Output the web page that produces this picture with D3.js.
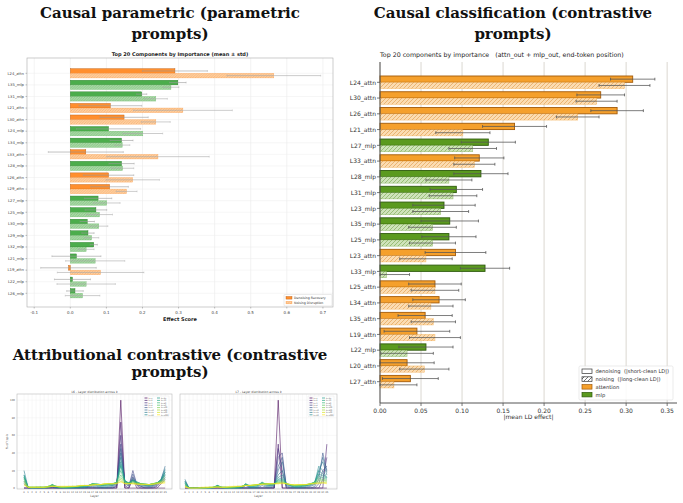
<!DOCTYPE html>
<html>
<head>
<meta charset="utf-8">
<script src="https://cdn.jsdelivr.net/npm/d3@7"></script>
<style>
  body { margin: 0; background: #fff; }
  svg { display: block; }
  text { font-family: "DejaVu Sans", sans-serif; }
  .ptitle { font-family: "DejaVu Serif", serif; font-weight: bold; font-size: 15px; fill: #111; }
</style>
</head>
<body>
<svg id="fig" width="683" height="503"></svg>
<script>
// ---- causal parametric (top left) ----
const paramComponents = ["L24_attn","L35_mlp","L31_mlp","L21_attn","L30_attn","L24_mlp","L34_mlp","L33_attn","L28_mlp","L26_attn",
  "L29_attn","L27_mlp","L25_mlp","L30_mlp","L29_mlp","L32_mlp","L21_mlp","L19_attn","L22_mlp","L26_mlp"];
const paramDenoise    = [0.290,0.298,0.198,0.111,0.149,0.106,0.142,0.043,0.142,0.106,0.109,0.077,0.071,0.047,0.049,0.065,0.017,-0.005,0.006,0.013];
const paramDenoiseStd = [0.090,0.023,0.014,0.087,0.067,0.089,0.032,0.104,0.035,0.070,0.052,0.038,0.030,0.020,0.017,0.010,0.068,0.077,0.050,0.023];
const paramNoise      = [0.564,0.279,0.237,0.312,0.237,0.201,0.144,0.243,0.145,0.173,0.156,0.101,0.081,0.079,0.059,0.044,0.069,0.084,0.044,0.034];
const paramNoiseStd   = [0.130,0.022,0.032,0.137,0.040,0.055,0.021,0.142,0.031,0.074,0.029,0.037,0.036,0.025,0.020,0.022,0.082,0.120,0.081,0.048];
const paramTicks = [-0.1,0.0,0.1,0.2,0.3,0.4,0.5,0.6,0.7];

// ---- causal classification (right) ----
const classComponents = ["L24_attn","L30_attn","L26_attn","L21_attn","L27_mlp","L33_attn","L28_mlp","L31_mlp","L23_mlp","L35_mlp",
  "L25_mlp","L23_attn","L33_mlp","L25_attn","L34_attn","L35_attn","L19_attn","L22_mlp","L20_attn","L27_attn"];
const classDenoise    = [0.308,0.269,0.289,0.164,0.132,0.121,0.123,0.093,0.078,0.085,0.084,0.092,0.128,0.067,0.072,0.055,0.045,0.056,0.033,0.037];
const classDenoiseStd = [0.027,0.029,0.032,0.039,0.033,0.030,0.033,0.032,0.038,0.035,0.033,0.037,0.030,0.032,0.032,0.033,0.040,0.033,0.033,0.034];
const classNoise      = [0.298,0.264,0.241,0.101,0.113,0.115,0.084,0.089,0.074,0.064,0.064,0.056,0.008,0.067,0.062,0.065,0.067,0.033,0.054,0.017];
const classNoiseStd   = [0.031,0.025,0.026,0.033,0.029,0.025,0.028,0.029,0.034,0.029,0.028,0.032,0.028,0.029,0.027,0.027,0.031,0.032,0.030,0.028];
const classTicks = [0,0.05,0.1,0.15,0.2,0.25,0.3,0.35];

// ---- attributional contrastive (bottom left) ----
const kLabels = ["k=1","k=2","k=3","k=4","k=5","k=10","k=15","k=20","k=25","k=30","k=40","k=50","k=100","k=200","k=500","k=1000"];
const layers = d3.range(36);
const yShareTicks = [0,20,40,60,80,100];
const l6Share = [
  [0,0,0,0,0,0,0,0,0,0,0,0,0,0,0,0,0,0,0,0,0,0,0,0,100,0,0,0,0,0,0,0,0,0,0,0],
  [0,0,0,0,0,0,0,0,0,0,0,0,0,0,0,0,0,0,0,0,0,0,0,0,75,0,0,10,0,0,0,0,0,0,5,10],
  [0,0,0,0,0,0,0,0,0,0,0,0,0,0,0,0,0,0,0,0,0,0,0,2,60,3,0,13,3,0,0,0,0,2,7,12],
  [5,0,0,0,0,0,0,1,0,0,0,0,0,0,0,0,0,0,0,0,0,0,0,3,50,5,2,20,4,2,0,0,1,3,8,15],
  [8,0,0,0,0,0,0,1,0,0,0,0,0,0,0,0,1,1,0,0,0,0,1,4,45,6,3,16,4,2,1,1,2,4,9,18],
  [12,0,0,0,0,0,1,2,1,0,0,0,0,0,0,0,1,2,1,1,0,1,2,5,40,8,4,12,5,3,2,2,3,5,10,25],
  [20,1,0,0,0,0,1,3,1,0,0,0,0,0,1,1,2,3,2,1,1,2,3,6,35,8,5,10,6,4,3,2,3,5,10,22],
  [15,1,0,0,0,0,1,3,1,1,0,0,0,1,1,1,2,4,3,2,2,3,3,6,30,9,5,9,6,4,3,3,4,6,10,20],
  [15,1,0,0,1,0,1,4,1,1,0,0,1,1,1,2,3,5,4,3,3,4,4,7,27,8,6,9,7,5,4,3,4,6,9,18],
  [13,1,0,1,1,1,1,4,2,1,1,1,1,1,2,2,3,5,4,3,3,4,4,7,25,8,6,8,7,5,4,4,5,6,9,16],
  [12,1,1,1,1,1,2,4,2,1,1,1,1,2,2,2,3,5,5,4,4,4,5,7,20,7,6,8,6,5,4,4,5,6,8,14],
  [10,1,1,1,1,1,2,3,2,1,1,1,1,2,2,3,3,5,5,4,4,5,5,7,15,7,6,7,6,5,5,4,5,6,8,12],
  [8,1,1,1,1,1,2,3,2,1,1,1,2,2,2,3,3,4,4,4,4,5,5,6,12,6,5,6,5,5,5,4,5,6,7,10],
  [6,1,1,1,1,1,2,2,2,1,1,2,2,2,3,3,3,4,4,4,5,5,5,6,10,5,5,6,5,5,4,4,5,6,7,8],
  [4,1,1,1,1,1,2,2,2,2,2,2,2,2,3,3,3,4,4,4,5,5,5,5,8,5,5,5,5,4,4,4,5,5,6,7],
  [3,1,1,1,1,1,1,2,2,2,2,2,2,2,3,3,3,3,4,4,5,5,5,5,7,5,5,5,4,4,4,4,4,5,5,6]
];
const l7Share = [
  [0,0,0,0,0,0,0,0,0,0,0,0,0,0,0,0,0,0,0,0,0,0,0,100,0,0,0,0,0,0,0,0,0,0,0,0],
  [0,0,0,0,0,0,0,0,0,0,0,0,0,0,0,0,0,0,0,0,0,0,0,50,0,0,0,0,0,0,0,0,0,0,0,50],
  [0,0,0,0,0,0,0,0,0,0,0,0,0,0,0,0,0,0,0,0,0,0,0,45,20,0,0,0,0,0,0,0,0,0,10,35],
  [3,0,0,0,0,0,0,0,0,0,0,0,0,0,0,0,0,0,0,0,0,0,0,35,40,0,0,0,0,0,0,0,0,5,20,25],
  [5,0,0,0,0,0,0,0,1,0,0,0,0,0,0,0,0,0,0,0,0,0,2,25,35,2,0,0,0,0,0,0,2,10,40,20],
  [8,0,0,0,0,0,0,0,2,0,0,0,0,0,0,3,0,0,0,3,1,1,3,20,30,3,1,0,0,0,1,2,4,15,35,18],
  [10,0,0,0,0,0,0,0,3,0,0,0,0,0,0,4,1,0,1,5,2,2,4,15,20,4,2,1,1,1,2,3,5,20,30,15],
  [8,0,0,0,0,0,0,0,3,1,0,0,0,0,1,5,1,1,2,6,3,3,4,12,15,5,3,1,1,2,3,4,6,25,20,12],
  [7,0,0,0,0,0,0,1,3,1,0,0,0,0,1,5,2,2,3,7,4,3,4,10,12,5,3,2,2,2,3,4,7,20,16,12],
  [6,0,0,0,0,0,0,1,3,1,0,0,0,1,2,4,2,2,3,6,4,4,5,9,10,5,3,2,2,3,3,5,7,16,14,11],
  [5,0,0,0,0,0,0,1,2,1,1,0,1,1,2,4,3,3,4,6,5,4,5,8,9,5,4,3,3,3,4,5,7,13,12,10],
  [4,0,0,0,0,0,0,1,2,1,1,1,1,1,2,4,3,3,4,5,5,5,5,7,8,5,4,3,3,3,4,5,6,11,10,9],
  [3,0,0,0,0,0,1,1,2,1,1,1,1,2,2,3,3,3,4,5,5,5,5,6,7,5,4,3,3,4,4,5,6,9,9,8],
  [2,0,0,0,0,0,1,1,2,1,1,1,1,2,2,3,3,4,4,5,5,5,5,6,6,5,4,3,4,4,4,5,6,7,7,7],
  [2,0,0,0,0,1,1,1,1,1,1,1,2,2,2,3,3,4,4,4,5,5,5,5,6,5,4,4,4,4,4,5,5,6,6,6],
  [1,0,0,0,1,1,1,1,1,1,1,2,2,2,2,3,3,3,4,4,4,5,5,5,5,5,4,4,4,4,4,5,5,5,6,5]
];

const svg = d3.select("#fig");
const defs = svg.append("defs");

// diagonal hatch like matplotlib "//"
function addHatch(id, bg, color, size, width) {
  const p = defs.append("pattern").attr("id", id)
    .attr("patternUnits", "userSpaceOnUse")
    .attr("width", size).attr("height", size);
  p.append("rect").attr("width", size).attr("height", size).attr("fill", bg);
  p.append("path")
    .attr("d", `M0,${size} L${size},0 M${-size / 2},${size / 2} L${size / 2},${-size / 2} M${size / 2},${size * 1.5} L${size * 1.5},${size / 2}`)
    .attr("stroke", color).attr("stroke-width", width);
}
addHatch("hp-attn", "#ffcf9e", "#f0a060", 2.6, 0.5);
addHatch("hp-mlp", "#a9d8a6", "#6cb86a", 2.6, 0.5);
addHatch("hc-attn", "#fbdcb2", "#e3a456", 4, 0.7);
addHatch("hc-mlp", "#cfe3bb", "#82ad5c", 4, 0.7);
addHatch("hc-white", "#fff", "#333", 4, 0.7);

const kind = (name) => name.endsWith("attn") ? "attn" : "mlp";

// panel titles
function panelTitle(cx, y1, y2, line1) {
  svg.append("text").attr("class", "ptitle").attr("x", cx).attr("y", y1).attr("text-anchor", "middle").text(line1);
  svg.append("text").attr("class", "ptitle").attr("x", cx).attr("y", y2).attr("text-anchor", "middle").text("prompts)");
}
panelTitle(170, 18, 39, "Causal parametric (parametric");
panelTitle(513, 18, 39, "Causal classification (contrastive");
panelTitle(170, 360, 377, "Attributional contrastive (contrastive");

// ---------- top-left chart ----------
function drawParametric() {
  const L = 27, R = 333, T = 58, B = 307;
  const g = svg.append("g");
  const x = d3.scaleLinear().domain([-0.12, 0.728]).range([L, R]);
  const y = d3.scalePoint().domain(paramComponents).range([73.3, 293.3]);
  const h = y.step() * 0.4;
  const fill = { attn: "#ff8f2e", mlp: "#4cad4c" };
  const edge = { attn: "#b85a10", mlp: "#2a7a2a" };

  paramTicks.forEach(t => {
    g.append("line").attr("x1", x(t)).attr("x2", x(t)).attr("y1", T).attr("y2", B)
      .attr("stroke", "#e6e6e6").attr("stroke-width", 0.5);
  });
  paramComponents.forEach(c => {
    g.append("line").attr("x1", L).attr("x2", R).attr("y1", y(c)).attr("y2", y(c))
      .attr("stroke", "#ececec").attr("stroke-width", 0.5);
  });

  paramComponents.forEach((c, i) => {
    const cy = y(c), k = kind(c);
    const v1 = paramDenoise[i], v2 = paramNoise[i];
    g.append("rect").attr("x", x(Math.min(0, v1))).attr("y", cy - h)
      .attr("width", Math.abs(x(v1) - x(0))).attr("height", h)
      .attr("fill", fill[k]).attr("stroke", edge[k]).attr("stroke-width", 0.4);
    g.append("rect").attr("x", x(Math.min(0, v2))).attr("y", cy)
      .attr("width", Math.abs(x(v2) - x(0))).attr("height", h)
      .attr("fill", `url(#hp-${k})`).attr("stroke", fill[k]).attr("stroke-opacity", 0.6).attr("stroke-width", 0.4);
    [[v1, paramDenoiseStd[i], cy - h / 2, "#999"], [v2, paramNoiseStd[i], cy + h / 2, "#aaa"]].forEach(([v, s, yy, col]) => {
      g.append("line").attr("x1", x(v - s)).attr("x2", x(v + s)).attr("y1", yy).attr("y2", yy)
        .attr("stroke", col).attr("stroke-width", 0.6);
      [v - s, v + s].forEach(e => g.append("line").attr("x1", x(e)).attr("x2", x(e))
        .attr("y1", yy - 0.9).attr("y2", yy + 0.9).attr("stroke", col).attr("stroke-width", 0.4));
    });
  });

  g.append("rect").attr("x", L).attr("y", T).attr("width", R - L).attr("height", B - T)
    .attr("fill", "none").attr("stroke", "#aaa").attr("stroke-width", 0.6);

  paramComponents.forEach(c => {
    g.append("line").attr("x1", L - 1.5).attr("x2", L).attr("y1", y(c)).attr("y2", y(c)).attr("stroke", "#666").attr("stroke-width", 0.4);
    g.append("text").attr("x", L - 3).attr("y", y(c) + 1.3).attr("text-anchor", "end")
      .attr("font-size", 3.8).attr("fill", "#444").text(c);
  });
  paramTicks.forEach(t => {
    g.append("line").attr("x1", x(t)).attr("x2", x(t)).attr("y1", B).attr("y2", B + 1.5).attr("stroke", "#666").attr("stroke-width", 0.4);
    g.append("text").attr("x", x(t)).attr("y", B + 6.5).attr("text-anchor", "middle")
      .attr("font-size", 4).attr("fill", "#444").text(t.toFixed(1));
  });
  g.append("text").attr("x", (L + R) / 2).attr("y", 320.5).attr("text-anchor", "middle")
    .attr("font-size", 5).attr("font-weight", "bold").attr("fill", "#222").text("Effect Score");
  g.append("text").attr("x", 180).attr("y", 55.5).attr("text-anchor", "middle")
    .attr("font-size", 5).attr("font-weight", "bold").attr("fill", "#222").text("Top 20 Components by Importance (mean ± std)");

  // legend
  const lg = g.append("g").attr("transform", "translate(284,294.5)");
  lg.append("rect").attr("width", 48).attr("height", 11.5).attr("rx", 1).attr("fill", "#fff").attr("stroke", "#ccc").attr("stroke-width", 0.4);
  lg.append("rect").attr("x", 2).attr("y", 2).attr("width", 6).attr("height", 2.6).attr("fill", fill.attn).attr("stroke", edge.attn).attr("stroke-width", 0.4);
  lg.append("rect").attr("x", 2).attr("y", 6.8).attr("width", 6).attr("height", 2.6).attr("fill", "url(#hp-attn)").attr("stroke", fill.attn).attr("stroke-width", 0.3);
  lg.append("text").attr("x", 10).attr("y", 4.4).attr("font-size", 3.2).attr("fill", "#333").text("Denoising Recovery");
  lg.append("text").attr("x", 10).attr("y", 9.2).attr("font-size", 3.2).attr("fill", "#333").text("Noising Disruption");
}

// ---------- right chart ----------
function drawClassification() {
  const L = 380, R = 677, T = 62, B = 403;
  const g = svg.append("g");
  const x = d3.scaleLinear().domain([0, 0.362]).range([L, R]);
  const y = d3.scalePoint().domain(classComponents).range([82.3, 381.7]);
  const h = y.step() * 0.4;
  const fill = { attn: "#f5a02c", mlp: "#5b9a1f" };
  const edge = { attn: "#a35a08", mlp: "#2e5a0c" };

  classTicks.forEach(t => {
    g.append("line").attr("x1", x(t)).attr("x2", x(t)).attr("y1", T).attr("y2", B)
      .attr("stroke", "#dedbd5").attr("stroke-width", 1.1);
  });

  classComponents.forEach((c, i) => {
    const cy = y(c), k = kind(c);
    const v1 = classDenoise[i], v2 = classNoise[i];
    g.append("rect").attr("x", x(0)).attr("y", cy - h).attr("width", x(v1) - x(0)).attr("height", h)
      .attr("fill", fill[k]).attr("stroke", edge[k]).attr("stroke-width", 0.9);
    g.append("rect").attr("x", x(0)).attr("y", cy).attr("width", x(v2) - x(0)).attr("height", h)
      .attr("fill", `url(#hc-${k})`).attr("stroke", fill[k]).attr("stroke-opacity", 0.5).attr("stroke-width", 0.6);
    [[v1, classDenoiseStd[i], cy - h / 2], [v2, classNoiseStd[i], cy + h / 2]].forEach(([v, s, yy]) => {
      const lo = Math.max(0, v - s);
      g.append("line").attr("x1", x(lo)).attr("x2", x(v + s)).attr("y1", yy).attr("y2", yy)
        .attr("stroke", "#555").attr("stroke-opacity", 0.85).attr("stroke-width", 0.9);
      [lo, v + s].forEach(e => g.append("line").attr("x1", x(e)).attr("x2", x(e))
        .attr("y1", yy - 1.4).attr("y2", yy + 1.4).attr("stroke", "#555").attr("stroke-width", 0.8));
    });
  });

  g.append("line").attr("x1", L).attr("x2", L).attr("y1", T).attr("y2", B).attr("stroke", "#555").attr("stroke-width", 1);
  g.append("line").attr("x1", L).attr("x2", R).attr("y1", B).attr("y2", B).attr("stroke", "#555").attr("stroke-width", 1);

  classComponents.forEach(c => {
    g.append("line").attr("x1", L - 3).attr("x2", L).attr("y1", y(c)).attr("y2", y(c)).attr("stroke", "#555").attr("stroke-width", 0.8);
    g.append("text").attr("x", L - 4).attr("y", y(c) + 2.2).attr("text-anchor", "end")
      .attr("font-size", 6).attr("fill", "#333").text(c);
  });
  classTicks.forEach(t => {
    g.append("line").attr("x1", x(t)).attr("x2", x(t)).attr("y1", B).attr("y2", B + 3).attr("stroke", "#555").attr("stroke-width", 0.8);
    g.append("text").attr("x", x(t)).attr("y", B + 9.5).attr("text-anchor", "middle")
      .attr("font-size", 6).attr("fill", "#333").text(t.toFixed(2));
  });
  g.append("text").attr("x", (L + R) / 2).attr("y", 419).attr("text-anchor", "middle")
    .attr("font-size", 6).attr("fill", "#333").text("|mean LD effect|");
  g.append("text").attr("x", L).attr("y", 57).attr("font-size", 6.3).attr("fill", "#222").attr("xml:space", "preserve")
    .text("Top 20 components by importance   (attn_out + mlp_out, end-token position)");

  // legend
  const lg = g.append("g").attr("transform", "translate(579,366)");
  lg.append("rect").attr("width", 94).attr("height", 34).attr("rx", 1.5).attr("fill", "#fff").attr("fill-opacity", 0.85)
    .attr("stroke", "#ddd").attr("stroke-width", 0.6);
  const items = [
    ["denoising  (|short-clean LD|)", "#fff", "#333"],
    ["noising  (|long-clean LD|)", "url(#hc-white)", "#333"],
    ["attention", fill.attn, edge.attn],
    ["mlp", fill.mlp, edge.mlp]
  ];
  items.forEach(([label, f, s], i) => {
    lg.append("rect").attr("x", 3).attr("y", 3 + i * 7.8).attr("width", 10).attr("height", 4.5)
      .attr("fill", f).attr("stroke", s).attr("stroke-width", 0.7);
    lg.append("text").attr("x", 16.5).attr("y", 7.2 + i * 7.8).attr("font-size", 5.2).attr("fill", "#333")
      .attr("xml:space", "preserve").text(label);
  });
}

// ---------- bottom-left line panels ----------
function drawLayerPanel(L, R, T, B, domainX, title, data, showY, legendX) {
  const g = svg.append("g");
  const x = d3.scaleLinear().domain(domainX).range([L, R]);
  const y = d3.scaleLinear().domain([-1, 107]).range([B, T]);
  layers.forEach(l => g.append("line").attr("x1", x(l)).attr("x2", x(l)).attr("y1", T).attr("y2", B)
    .attr("stroke", "#eee").attr("stroke-width", 0.4));
  yShareTicks.forEach(t => g.append("line").attr("x1", L).attr("x2", R).attr("y1", y(t)).attr("y2", y(t))
    .attr("stroke", "#eee").attr("stroke-width", 0.4));

  const line = d3.line().x((d, i) => x(layers[i])).y(d => y(d));
  data.forEach((s, i) => {
    g.append("path").attr("d", line(s)).attr("fill", "none")
      .attr("stroke", d3.interpolateViridis(i / (data.length - 1)))
      .attr("stroke-width", 0.7).attr("stroke-opacity", 0.8);
  });

  g.append("rect").attr("x", L).attr("y", T).attr("width", R - L).attr("height", B - T)
    .attr("fill", "none").attr("stroke", "#bbb").attr("stroke-width", 0.6);
  layers.forEach(l => g.append("text").attr("x", x(l)).attr("y", B + 3.5).attr("text-anchor", "middle")
    .attr("font-size", 2.4).attr("fill", "#555").text(l));
  g.append("text").attr("x", (L + R) / 2).attr("y", B + 7.5).attr("text-anchor", "middle")
    .attr("font-size", 3).attr("fill", "#555").text("Layer");
  g.append("text").attr("x", (L + R) / 2).attr("y", T - 1.5).attr("text-anchor", "middle")
    .attr("font-size", 3).attr("fill", "#444").text(title);
  if (showY) {
    yShareTicks.forEach(t => g.append("text").attr("x", L - 2).attr("y", y(t) + 1).attr("text-anchor", "end")
      .attr("font-size", 2.6).attr("fill", "#555").text(t));
    g.append("text").attr("transform", `translate(${L - 9},${(T + B) / 2}) rotate(-90)`).attr("text-anchor", "middle")
      .attr("font-size", 3).attr("fill", "#555").text("% of top-k");
  }
  const lg = g.append("g").attr("transform", `translate(${legendX},${T + 2})`);
  lg.append("rect").attr("width", 26).attr("height", 20.5).attr("fill", "#fff").attr("fill-opacity", 0.8)
    .attr("stroke", "#ddd").attr("stroke-width", 0.3);
  kLabels.forEach((k, i) => {
    const col = Math.floor(i / 8), row = i % 8;
    const lx = 1.5 + col * 12.5, ly = 2 + row * 2.4;
    lg.append("line").attr("x1", lx).attr("x2", lx + 3).attr("y1", ly).attr("y2", ly)
      .attr("stroke", d3.interpolateViridis(i / (kLabels.length - 1))).attr("stroke-width", 0.7);
    lg.append("text").attr("x", lx + 4).attr("y", ly + 0.7).attr("font-size", 1.9).attr("fill", "#444").text(k);
  });
}

drawParametric();
drawClassification();
drawLayerPanel(17, 172, 394, 489, [-1.74, 36.7], "L6 - Layer distribution across k", l6Share, true, 143);
drawLayerPanel(180, 337, 394, 489, [-1.23, 37.5], "L7 - Layer distribution across k", l7Share, false, 308);
</script>
</body>
</html>
